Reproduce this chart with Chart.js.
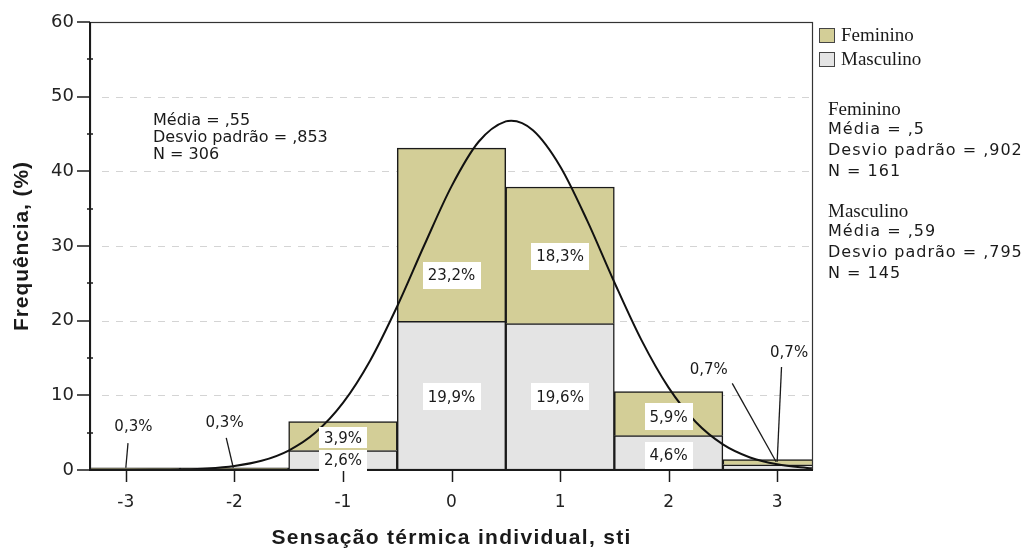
<!DOCTYPE html>
<html>
<head>
<meta charset="utf-8">
<script src="https://cdn.jsdelivr.net/npm/chart.js@4.4.1/dist/chart.umd.min.js"></script>
<style>
  html, body { margin: 0; padding: 0; background: #fff; }
  #wrap { width: 1026px; height: 549px; position: relative; }
</style>
</head>
<body>
<div id="wrap"><canvas id="histo"></canvas></div>
<script>
// valores (%)
const categories = [-3, -2, -1, 0, 1, 2, 3];
const feminino = [0.3, 0.3, 3.9, 23.2, 18.3, 5.9, 0.7];
const masculino = [0, 0, 2.6, 19.9, 19.6, 4.6, 0.7];

// curva normal ajustada
const curveX = [-3.33, -3, -2.75, -2.5, -2.25, -2, -1.75, -1.5, -1.25, -1, -0.75, -0.5, -0.25, 0, 0.25, 0.5, 0.55, 0.75, 1, 1.25, 1.5, 1.75, 2, 2.25, 2.5, 2.75, 3, 3.32];
const curveY = [0, 0.01, 0.03, 0.08, 0.21, 0.54, 1.23, 2.61, 5.05, 8.98, 14.64, 21.93, 30.13, 37.99, 43.96, 46.69, 46.77, 45.5, 40.69, 33.4, 25.15, 17.39, 11.03, 6.42, 3.43, 1.68, 0.76, 0.22];

// rótulos dentro das barras
const barLabelText = ["3,9%", "2,6%", "23,2%", "19,9%", "18,3%", "19,6%", "5,9%", "4,6%"];
const barLabelX = [-1, -1, 0, 0, 1, 1, 2, 2];
const barLabelY = [4.3, 1.3, 26.1, 9.8, 28.6, 9.8, 7.1, 2.0];

// rótulos com linha de chamada
const leaderText = ["0,3%", "0,3%", "0,7%", "0,7%"];
const leaderTextX = [-2.93, -2.09, 2.37, 3.11];
const leaderTextY = [5.7, 6.3, 13.4, 15.7];
const leaderFromX = [-2.98, -2.075, 2.586, 3.04];
const leaderFromY = [3.6, 4.3, 11.6, 13.8];
const leaderToX = [-3.0, -2.01, 2.99, 3.0];
const leaderToY = [0.3, 0.3, 1.1, 1.1];

const statsAll = ["Média = ,55", "Desvio padrão = ,853", "N = 306"];
const statsFem = ["Média = ,5", "Desvio padrão = ,902", "N = 161"];
const statsMasc = ["Média = ,59", "Desvio padrão = ,795", "N = 145"];

const COLOR_FEM = "#d3ce97";
const COLOR_MASC = "#e4e4e4";
const INK = "#1a1a1a";

const extrasPlugin = {
    id: "extras",
    beforeDatasetsDraw(chart) {
        const { ctx, chartArea: a, scales } = chart;
        ctx.save();
        ctx.strokeStyle = "#d4d4d4";
        ctx.lineWidth = 1;
        ctx.setLineDash([7, 7]);
        for (let v = 10; v <= 50; v += 10) {
            const y = Math.round(scales.y.getPixelForValue(v)) + 0.5;
            ctx.beginPath();
            ctx.moveTo(a.left + 12, y);
            ctx.lineTo(a.right, y);
            ctx.stroke();
        }
        ctx.restore();
    },
    afterDatasetsDraw(chart) {
        const { ctx, chartArea: a, scales } = chart;
        const xs = scales.x, ys = scales.y;
        ctx.save();

        // moldura
        ctx.strokeStyle = "#333";
        ctx.lineWidth = 1.2;
        ctx.strokeRect(a.left + 0.5, a.top + 0.5, a.right - a.left - 1, a.bottom - a.top - 1);
        ctx.strokeStyle = INK;
        ctx.lineWidth = 2;
        ctx.beginPath();
        ctx.moveTo(a.left, a.top);
        ctx.lineTo(a.left, a.bottom);
        ctx.lineTo(a.right, a.bottom);
        ctx.stroke();

        // marcas do eixo y
        ctx.lineWidth = 1.5;
        for (let v = 0; v <= 60; v += 5) {
            const y = Math.round(ys.getPixelForValue(v));
            ctx.beginPath();
            if (v % 10 === 0) {
                ctx.moveTo(a.left - 13, y);
                ctx.lineTo(a.left, y);
            } else {
                ctx.moveTo(a.left - 3, y);
                ctx.lineTo(a.left + 3, y);
            }
            ctx.stroke();
        }
        // marcas do eixo x
        categories.forEach(c => {
            const x = Math.round(xs.getPixelForValue(c)) + 0.5;
            ctx.beginPath();
            ctx.moveTo(x, a.bottom);
            ctx.lineTo(x, a.bottom + 12);
            ctx.stroke();
        });

        // rótulos das barras
        ctx.font = "15px 'DejaVu Sans'";
        ctx.textAlign = "center";
        ctx.textBaseline = "middle";
        barLabelText.forEach((t, i) => {
            const x = xs.getPixelForValue(barLabelX[i]);
            const y = ys.getPixelForValue(barLabelY[i]);
            const w = ctx.measureText(t).width + 10;
            const h = barLabelX[i] === -1 ? 21 : 27;
            ctx.fillStyle = "#fff";
            ctx.fillRect(Math.round(x - w / 2), Math.round(y - h / 2), Math.round(w), h);
            ctx.fillStyle = INK;
            ctx.fillText(t, x, y + 1);
        });

        // rótulos com linha de chamada
        ctx.strokeStyle = INK;
        ctx.lineWidth = 1.3;
        leaderText.forEach((t, i) => {
            ctx.beginPath();
            ctx.moveTo(xs.getPixelForValue(leaderFromX[i]), ys.getPixelForValue(leaderFromY[i]));
            ctx.lineTo(xs.getPixelForValue(leaderToX[i]), ys.getPixelForValue(leaderToY[i]));
            ctx.stroke();
            ctx.fillStyle = INK;
            ctx.fillText(t, xs.getPixelForValue(leaderTextX[i]), ys.getPixelForValue(leaderTextY[i]));
        });

        ctx.restore();
    },
    afterDraw(chart) {
        const { ctx, chartArea: a } = chart;
        ctx.save();
        ctx.fillStyle = INK;

        // títulos dos eixos
        ctx.font = "bold 21px 'Liberation Sans'";
        ctx.textAlign = "center";
        ctx.textBaseline = "middle";
        ctx.letterSpacing = "1.3px";
        ctx.fillText("Sensação térmica individual, sti", (a.left + a.right) / 2, 538);
        ctx.letterSpacing = "0.9px";
        ctx.save();
        ctx.translate(22, (a.top + a.bottom) / 2);
        ctx.rotate(-Math.PI / 2);
        ctx.fillText("Frequência, (%)", 0, 0);
        ctx.restore();
        ctx.letterSpacing = "0px";

        // estatísticas gerais
        ctx.textAlign = "left";
        ctx.font = "16px 'DejaVu Sans'";
        statsAll.forEach((t, i) => ctx.fillText(t, 153, 121 + i * 17));

        // legenda
        const legend = [["Feminino", COLOR_FEM, 35], ["Masculino", COLOR_MASC, 59]];
        legend.forEach(([label, color, y]) => {
            ctx.fillStyle = color;
            ctx.fillRect(819, y - 7, 16, 15);
            ctx.strokeStyle = "#444";
            ctx.lineWidth = 1;
            ctx.strokeRect(819.5, y - 6.5, 15, 14);
            ctx.fillStyle = INK;
            ctx.font = "19px 'Liberation Serif'";
            ctx.fillText(label, 841, y + 1);
        });

        // estatísticas por sexo
        const blocks = [["Feminino", statsFem, 110], ["Masculino", statsMasc, 212]];
        blocks.forEach(([name, lines, y0]) => {
            ctx.font = "19px 'Liberation Serif'";
            ctx.letterSpacing = "0px";
            ctx.fillText(name, 828, y0);
            ctx.font = "16px 'DejaVu Sans'";
            ctx.letterSpacing = "1px";
            lines.forEach((t, i) => ctx.fillText(t, 828, y0 + 20 + i * 21));
        });
        ctx.letterSpacing = "0px";
        ctx.restore();
    }
};

const ctx = document.getElementById("histo").getContext("2d");
new Chart(ctx, {
    data: {
        datasets: [
            {
                type: "line",
                label: "Normal",
                data: curveX.map((x, i) => ({ x, y: curveY[i] })),
                borderColor: "#111",
                borderWidth: 2,
                pointRadius: 0,
                fill: false,
                cubicInterpolationMode: "monotone",
                order: 0,
            },
            {
                type: "bar",
                label: "Masculino",
                data: categories.map((c, i) => ({ x: c, y: masculino[i] })),
                backgroundColor: COLOR_MASC,
                borderColor: "#1a1a1a",
                borderWidth: 1.5,
                barPercentage: 1,
                categoryPercentage: 1,
                order: 1,
            },
            {
                type: "bar",
                label: "Feminino",
                data: categories.map((c, i) => ({ x: c, y: feminino[i] })),
                backgroundColor: COLOR_FEM,
                borderColor: "#1a1a1a",
                borderWidth: 1.5,
                barPercentage: 1,
                categoryPercentage: 1,
                order: 2,
            },
        ],
    },
    options: {
        responsive: true,
        maintainAspectRatio: false,
        animation: false,
        layout: { padding: { left: 0, top: 22, right: 213, bottom: 0 } },
        plugins: {
            legend: { display: false },
            tooltip: { enabled: false },
        },
        scales: {
            x: {
                type: "linear",
                stacked: true,
                offset: false,
                min: -3.33,
                max: 3.33,
                grid: { display: false, offset: false },
                border: { display: false },
                ticks: {
                    stepSize: 1,
                    includeBounds: false,
                    autoSkip: false,
                    maxRotation: 0,
                    padding: 14,
                    color: "#222",
                    font: { family: "'DejaVu Sans'", size: 17 },
                },
                afterFit(scale) { scale.height = 79; },
            },
            y: {
                stacked: true,
                min: 0,
                max: 60,
                grid: { display: false },
                border: { display: false },
                ticks: {
                    stepSize: 5,
                    autoSkip: false,
                    padding: 8,
                    color: "#222",
                    font: { family: "'DejaVu Sans'", size: 18 },
                    callback: v => (v % 10 === 0 ? v : ""),
                },
                afterFit(scale) { scale.width = 90; },
            },
        },
    },
    plugins: [extrasPlugin],
});
</script>
</body>
</html>
